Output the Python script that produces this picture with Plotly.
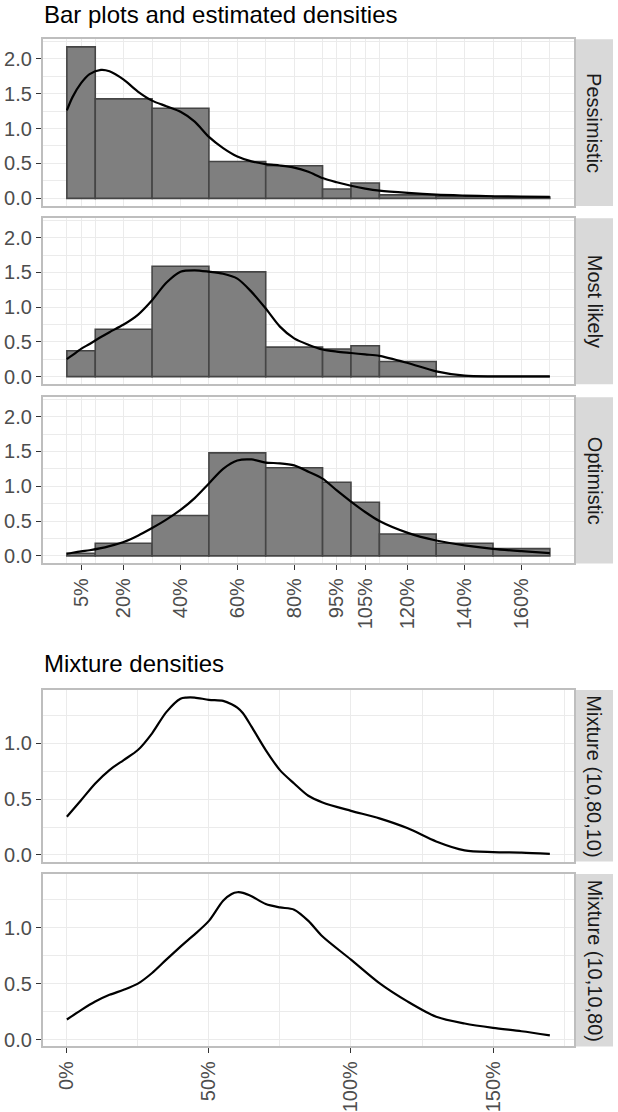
import plotly.graph_objects as go

# ---------------- data ----------------
bin_edges = [0, 10, 30, 50, 70, 90, 100, 110, 130, 150, 170]
top_tick_vals = [5, 20, 40, 60, 80, 95, 105, 120, 140, 160]
top_tick_text = ["5%", "20%", "40%", "60%", "80%", "95%", "105%", "120%", "140%", "160%"]

scenarios = ["Pessimistic", "Most likely", "Optimistic"]
bars_pess = [2.17, 1.425, 1.29, 0.527, 0.466, 0.134, 0.219, 0.05, 0.03, 0.02]
bars_most = [0.372, 0.683, 1.589, 1.507, 0.425, 0.397, 0.444, 0.219, 0.0, 0.0]
bars_opt = [0.038, 0.18, 0.58, 1.48, 1.267, 1.057, 0.771, 0.314, 0.18, 0.104]

dens_x = [0, 2, 5, 8, 12, 15, 20, 25, 30, 35, 40, 45, 50, 55, 60, 65, 70, 75, 80,
          85, 90, 95, 100, 105, 110, 120, 130, 140, 150, 160, 170]
dens_pess = [1.26, 1.45, 1.65, 1.78, 1.84, 1.82, 1.70, 1.53, 1.40, 1.32, 1.24, 1.10,
             0.88, 0.72, 0.60, 0.53, 0.49, 0.47, 0.44, 0.38, 0.29, 0.23, 0.18, 0.14,
             0.11, 0.077, 0.053, 0.04, 0.03, 0.025, 0.02]
dens_most = [0.253, 0.31, 0.40, 0.47, 0.57, 0.64, 0.75, 0.89, 1.10, 1.35, 1.51, 1.53,
             1.51, 1.48, 1.41, 1.22, 0.98, 0.72, 0.55, 0.46, 0.39, 0.36, 0.34, 0.32,
             0.30, 0.196, 0.076, 0.014, 0.005, 0.005, 0.005]
dens_opt = [0.03, 0.045, 0.065, 0.08, 0.11, 0.14, 0.20, 0.29, 0.40, 0.52, 0.66, 0.83,
            1.04, 1.25, 1.37, 1.385, 1.34, 1.33, 1.30, 1.21, 1.11, 0.94, 0.78, 0.63,
            0.50, 0.33, 0.22, 0.15, 0.10, 0.067, 0.04]

mix_x = [0, 5, 10, 15, 20, 25, 30, 35, 40, 42, 45, 50, 55, 58, 60, 62, 65, 70, 75, 80,
         85, 90, 100, 110, 120, 130, 140, 150, 160, 170]
mix_10_80_10 = [0.342, 0.49, 0.64, 0.76, 0.85, 0.94, 1.09, 1.28, 1.40, 1.41, 1.41, 1.39,
                1.38, 1.35, 1.32, 1.27, 1.15, 0.94, 0.76, 0.64, 0.53, 0.47, 0.395, 0.327,
                0.238, 0.12, 0.04, 0.025, 0.02, 0.01]
mix_10_10_80 = [0.18, 0.264, 0.34, 0.40, 0.445, 0.50, 0.595, 0.714, 0.83, 0.875, 0.94, 1.06,
                1.24, 1.30, 1.315, 1.31, 1.28, 1.21, 1.18, 1.16, 1.06, 0.92, 0.714, 0.504,
                0.339, 0.204, 0.144, 0.105, 0.075, 0.039]
mix_labels = ["Mixture (10,80,10)", "Mixture (10,10,80)"]
bottom_tick_vals = [0, 50, 100, 150]
bottom_tick_text = ["0%", "50%", "100%", "150%"]

# ---------------- layout helpers ----------------
W, H = 618, 1112
FONT = "Liberation Sans, Arial, sans-serif"
panels_px = [(39.3, 205.9), (218.3, 384.2), (397.3, 563.4), (690, 861.6), (874, 1046.4)]
x_left, x_right = 42.7, 574.0
strip_x0, strip_x1 = 576.0, 613.0


def fx(p):
    return p / W


def fy(p):
    return 1 - p / H


fig = go.Figure()

bar_mid = [(a + b) / 2 for a, b in zip(bin_edges[:-1], bin_edges[1:])]
bar_w = [b - a for a, b in zip(bin_edges[:-1], bin_edges[1:])]

top_bars = [bars_pess, bars_most, bars_opt]
top_dens = [dens_pess, dens_most, dens_opt]
for i in range(3):
    ax = "" if i == 0 else str(i + 1)
    fig.add_trace(go.Bar(x=bar_mid, y=top_bars[i], width=bar_w,
                         marker=dict(color="#7F7F7F", line=dict(color="#454545", width=1.6)),
                         xaxis="x" + ax, yaxis="y" + ax, showlegend=False))
    fig.add_trace(go.Scatter(x=dens_x, y=top_dens[i], mode="lines",
                             line=dict(color="black", width=2.2, shape="spline", smoothing=0.8),
                             xaxis="x" + ax, yaxis="y" + ax, showlegend=False))

mixes = [mix_10_80_10, mix_10_10_80]
for j in range(2):
    ax = str(j + 4)
    fig.add_trace(go.Scatter(x=mix_x, y=mixes[j], mode="lines",
                             line=dict(color="black", width=2.2, shape="spline", smoothing=0.8),
                             xaxis="x" + ax, yaxis="y" + ax, showlegend=False))

common = dict(showline=True, mirror=True, linecolor="#BEBEBE", linewidth=1.6,
              showgrid=True, gridcolor="#EBEBEB", gridwidth=1.4, zeroline=False,
              ticks="outside", ticklen=5, tickwidth=1.4, tickcolor="#333333",
              automargin=False,
              tickfont=dict(family=FONT, size=20, color="#4D4D4D"))

layout = dict(width=W, height=H, margin=dict(l=0, r=0, t=0, b=0),
              paper_bgcolor="white", plot_bgcolor="white", barmode="overlay",
              font=dict(family=FONT), showlegend=False)

shapes = []
annotations = []
for k in range(5):
    ax = "" if k == 0 else str(k + 1)
    t, b = panels_px[k]
    top = k < 3
    xa = dict(common)
    xa.update(domain=[fx(x_left), fx(x_right)], anchor="y" + ax,
              range=[-8.5, 178.5], tickmode="array", tickangle=-90)
    if top:
        xa.update(tickvals=top_tick_vals, ticktext=top_tick_text,
                  minor=dict(tickvals=bin_edges, showgrid=True, gridcolor="#EBEBEB", gridwidth=0.8))
    else:
        xa.update(tickvals=bottom_tick_vals, ticktext=bottom_tick_text,
                  minor=dict(tickvals=[25, 75, 125, 175], showgrid=True, gridcolor="#EBEBEB", gridwidth=0.8))
    if k in (0, 1, 3):
        xa.update(showticklabels=False, ticks="")
    ya = dict(common)
    ya.update(domain=[fy(b), fy(t)], anchor="x" + ax, tickmode="array")
    if top:
        ya.update(range=[-0.1085, 2.2785], tickvals=[0, 0.5, 1, 1.5, 2],
                  ticktext=["0.0", "0.5", "1.0", "1.5", "2.0"],
                  minor=dict(tickvals=[0.25, 0.75, 1.25, 1.75, 2.25], showgrid=True,
                             gridcolor="#EBEBEB", gridwidth=0.8))
    else:
        ya.update(range=[-0.06, 1.478], tickvals=[0, 0.5, 1],
                  ticktext=["0.0", "0.5", "1.0"],
                  minor=dict(tickvals=[0.25, 0.75, 1.25], showgrid=True,
                             gridcolor="#EBEBEB", gridwidth=0.8))
    layout["xaxis" + ax] = xa
    layout["yaxis" + ax] = ya

    label = scenarios[k] if top else mix_labels[k - 3]
    shapes.append(dict(type="rect", xref="paper", yref="paper",
                       x0=fx(strip_x0), x1=fx(strip_x1), y0=fy(b), y1=fy(t),
                       fillcolor="#D9D9D9", line=dict(width=0), layer="below"))
    annotations.append(dict(text=label, xref="paper", yref="paper",
                            x=fx((strip_x0 + strip_x1) / 2), y=fy((t + b) / 2),
                            xanchor="center", yanchor="middle", textangle=90, showarrow=False,
                            font=dict(family=FONT, size=20, color="#1A1A1A")))

annotations.append(dict(text="Bar plots and estimated densities", xref="paper", yref="paper",
                        x=fx(42), y=fy(14), xanchor="left", yanchor="middle",
                        showarrow=False, font=dict(family=FONT, size=24, color="black")))
annotations.append(dict(text="Mixture densities", xref="paper", yref="paper",
                        x=fx(42), y=fy(663), xanchor="left", yanchor="middle",
                        showarrow=False, font=dict(family=FONT, size=24, color="black")))

layout["shapes"] = shapes
layout["annotations"] = annotations
fig.update_layout(**layout)
fig.write_html("out.html", config={"displayModeBar": False},
               post_script="document.body.style.margin='0';document.body.style.padding='0';")
